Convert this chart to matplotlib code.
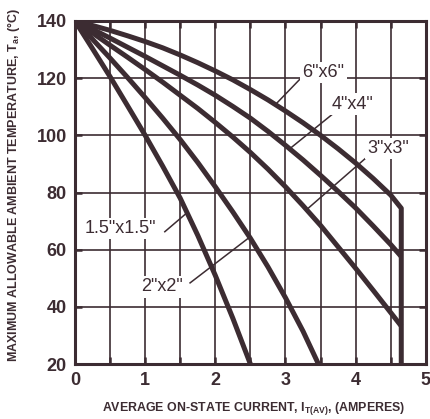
import matplotlib
matplotlib.use('Agg')
import matplotlib.pyplot as plt
from matplotlib.ticker import MultipleLocator

plt.rcParams['font.family'] = ['Liberation Sans', 'DejaVu Sans']
plt.rcParams['mathtext.fontset'] = 'custom'
plt.rcParams['mathtext.rm'] = 'Liberation Sans:bold'
plt.rcParams['mathtext.it'] = 'Liberation Sans:bold'

INK = '#3c2c32'

# derating curves, one per heat sink size
amps = [0, 0.25, 0.5, 0.75, 1.0, 1.25, 1.5, 1.75, 2.0, 2.25, 2.5, 2.75,
        3.0, 3.25, 3.5, 3.75, 4.0, 4.25, 4.5, 4.65]

x_15 = amps[:11]
t_15 = [140, 130.3, 120.5, 110.3, 100, 89.2, 78, 65, 51, 36, 20]

x_2 = amps[:14] + [3.47]
t_2 = [140, 133.6, 127, 120.2, 113.2, 106, 98.5, 90.5, 82, 73.2, 64, 54,
       43.2, 31.5, 20]

x_3 = amps
t_3 = [140, 135.8, 131.5, 127.3, 123, 118.6, 114, 109.4, 104.5, 99.4, 94,
       88.2, 82, 75.4, 68.5, 61, 53.5, 45.8, 38, 33.3]

x_4 = amps
t_4 = [140, 137.1, 134, 130.8, 127.6, 124.3, 121, 117.6, 114, 110.1, 106,
       101.4, 96.5, 91.4, 86, 80.4, 74.6, 68.3, 61.8, 57.6]

# 6x6 ends with a straight drop at the current limit
x_6 = amps + [4.65]
t_6 = [140, 138.4, 136.7, 134.8, 132.8, 130.6, 128.1, 125.4, 122.5, 119.4,
       116, 112.4, 108.5, 104.4, 100, 95.3, 90.3, 84.9, 79.1, 74.5, 20]

curves = [(x_15, t_15), (x_2, t_2), (x_3, t_3), (x_4, t_4), (x_6, t_6)]

# label text, text position, leader start, leader end
labels = [
    ('6"x6"', (3.54, 122), (3.2, 119.5), (2.85, 110.6)),
    ('4"x4"', (3.96, 110.9), (3.70, 108), (3.06, 95.3)),
    ('3"x3"', (4.46, 95.5), (4.17, 92.6), (3.30, 74.0)),
    ('1.5"x1.5"', (0.64, 67.4), (1.28, 66.3), (1.60, 73.0)),
    ('2"x2"', (1.24, 47), (1.64, 48.4), (2.49, 64.4)),
]

fig = plt.figure(figsize=(4.31, 4.19), dpi=100)
ax = fig.add_axes([0.174, 0.131, 0.814, 0.819])

ax.set_xlim(0, 5)
ax.set_ylim(20, 140)
ax.xaxis.set_major_locator(MultipleLocator(1))
ax.xaxis.set_minor_locator(MultipleLocator(0.5))
ax.yaxis.set_major_locator(MultipleLocator(20))
ax.grid(True, which='both', axis='x', color=INK, lw=1.2)
ax.grid(True, which='major', axis='y', color=INK, lw=1.2)
ax.set_axisbelow(True)

for s in ax.spines.values():
    s.set_linewidth(2.2)
    s.set_color(INK)
ax.tick_params(which='both', direction='in', top=True, right=True,
               length=5, width=1.8, color=INK, labelcolor=INK,
               labelsize=13, pad=6)
for lab in ax.get_xticklabels() + ax.get_yticklabels():
    lab.set_fontweight('bold')

for xs, ts in curves:
    ax.plot(xs, ts, color=INK, lw=3.6, solid_capstyle='butt',
            solid_joinstyle='round', zorder=3)

for txt, pos, p0, p1 in labels:
    ax.plot([p0[0], p1[0]], [p0[1], p1[1]], color=INK, lw=1.1, zorder=4)
    ax.text(pos[0], pos[1], txt, ha='center', va='center', fontsize=13,
            color=INK, zorder=5,
            bbox=dict(facecolor='white', edgecolor='none', pad=1.5))

ax.set_xlabel('AVERAGE ON-STATE CURRENT, I$_{T(AV)}$, (AMPERES)',
              fontsize=8.9, fontweight='bold', color=INK)
ax.xaxis.set_label_coords(0.51, -0.106)
ax.set_ylabel('MAXIMUM ALLOWABLE AMBIENT TEMPERATURE, T$_a$, (°C)',
              fontsize=9.0, fontweight='bold', color=INK)
ax.yaxis.set_label_coords(-0.15, 0.522)

fig.savefig('out.png', dpi=100)
